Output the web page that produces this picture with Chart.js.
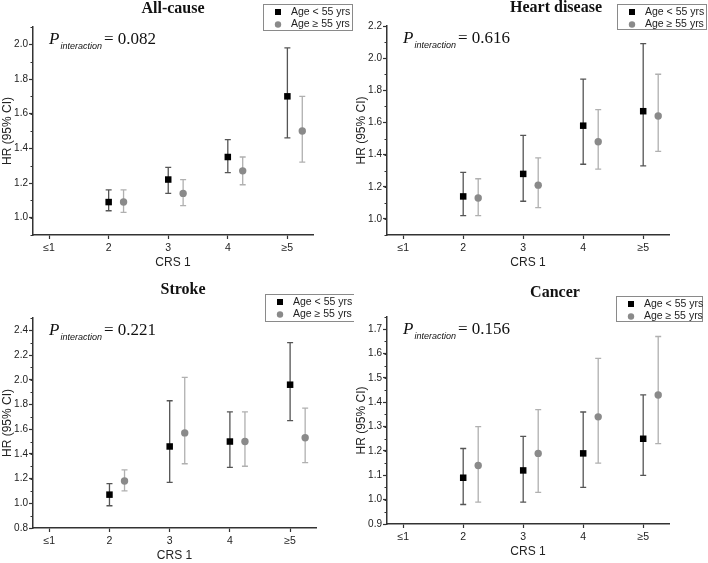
<!DOCTYPE html>
<html>
<head>
<meta charset="utf-8">
<script src="https://cdn.jsdelivr.net/npm/chart.js@4.4.1/dist/chart.umd.min.js"></script>
<style>
  body { margin: 0; background: #fff; }
  #wrap { position: relative; width: 708px; height: 563px; }
  canvas { position: absolute; }
</style>
</head>
<body>
<div id="wrap">
  <canvas id="c1" width="354" height="280" style="left:0;top:0"></canvas>
  <canvas id="c2" width="354" height="280" style="left:354px;top:0"></canvas>
  <canvas id="c3" width="354" height="283" style="left:0;top:280px"></canvas>
  <canvas id="c4" width="354" height="283" style="left:354px;top:280px"></canvas>
</div>
<script>
// --- DATA ---
const crsLabels = ["≤1", "2", "3", "4", "≥5"];
const pointCats = ["2", "3", "4", "≥5"];
const seriesNames = ["Age < 55 yrs", "Age ≥ 55 yrs"];

// All-cause
const allYoungHR = [1.09, 1.22, 1.35, 1.70];
const allYoungLo = [1.04, 1.14, 1.26, 1.46];
const allYoungHi = [1.16, 1.29, 1.45, 1.98];
const allOldHR = [1.09, 1.14, 1.27, 1.50];
const allOldLo = [1.03, 1.07, 1.19, 1.32];
const allOldHi = [1.16, 1.22, 1.35, 1.70];
const allTicks = [1.0, 1.2, 1.4, 1.6, 1.8, 2.0];

// Heart disease
const heartYoungHR = [1.14, 1.28, 1.58, 1.67];
const heartYoungLo = [1.02, 1.11, 1.34, 1.33];
const heartYoungHi = [1.29, 1.52, 1.87, 2.09];
const heartOldHR = [1.13, 1.21, 1.48, 1.64];
const heartOldLo = [1.02, 1.07, 1.31, 1.42];
const heartOldHi = [1.25, 1.38, 1.68, 1.90];
const heartTicks = [1.0, 1.2, 1.4, 1.6, 1.8, 2.0, 2.2];

// Stroke
const strokeYoungHR = [1.07, 1.46, 1.50, 1.96];
const strokeYoungLo = [0.98, 1.17, 1.29, 1.67];
const strokeYoungHi = [1.16, 1.83, 1.74, 2.30];
const strokeOldHR = [1.18, 1.57, 1.50, 1.53];
const strokeOldLo = [1.10, 1.32, 1.30, 1.33];
const strokeOldHi = [1.27, 2.02, 1.74, 1.77];
const strokeTicks = [0.8, 1.0, 1.2, 1.4, 1.6, 1.8, 2.0, 2.2, 2.4];

// Cancer
const cancerYoungHR = [1.09, 1.12, 1.19, 1.25];
const cancerYoungLo = [0.98, 0.99, 1.05, 1.10];
const cancerYoungHi = [1.21, 1.26, 1.36, 1.43];
const cancerOldHR = [1.14, 1.19, 1.34, 1.43];
const cancerOldLo = [0.99, 1.03, 1.15, 1.23];
const cancerOldHi = [1.30, 1.37, 1.58, 1.67];
const cancerTicks = [0.9, 1.0, 1.1, 1.2, 1.3, 1.4, 1.5, 1.6, 1.7];

const sans = '"Liberation Sans", Arial, sans-serif';
const serif = '"Liberation Serif", "Times New Roman", serif';

// error bars drawn from lo/hi arrays through the y scale
const errorBars = {
  id: "errorBars",
  beforeDatasetsDraw(chart) {
    const ctx = chart.ctx;
    const yScale = chart.scales.y;
    chart.data.datasets.forEach((ds, i) => {
      const meta = chart.getDatasetMeta(i);
      ctx.save();
      ctx.strokeStyle = ds.barColor;
      ctx.lineWidth = 1.3;
      meta.data.forEach((el, j) => {
        const x = el.x;
        const yLo = yScale.getPixelForValue(ds.lo[j]);
        const yHi = yScale.getPixelForValue(ds.hi[j]);
        ctx.beginPath();
        ctx.moveTo(x, yLo); ctx.lineTo(x, yHi);
        ctx.moveTo(x - 3, yLo); ctx.lineTo(x + 3, yLo);
        ctx.moveTo(x - 3, yHi); ctx.lineTo(x + 3, yHi);
        ctx.stroke();
      });
      ctx.restore();
    });
  }
};

// title, legend, P-interaction text and minor ticks
const panelDecor = {
  id: "panelDecor",
  afterDraw(chart, args, opts) {
    const ctx = chart.ctx;
    const area = chart.chartArea;
    ctx.save();

    // minor y ticks
    const yScale = chart.scales.y;
    ctx.strokeStyle = "#333";
    ctx.lineWidth = 1;
    for (let v = yScale.min; v <= yScale.max + 1e-9; v += opts.minor) {
      const py = Math.round(yScale.getPixelForValue(v)) + 0.5;
      ctx.beginPath();
      ctx.moveTo(area.left - 2.5, py);
      ctx.lineTo(area.left, py);
      ctx.stroke();
    }

    // title
    ctx.fillStyle = "#111";
    ctx.font = "bold 16px " + serif;
    ctx.textAlign = "center";
    ctx.textBaseline = "alphabetic";
    ctx.fillText(opts.title, opts.titleX, opts.titleY);

    // P interaction
    let px = area.left + 16;
    const py = area.top + 17;
    ctx.textAlign = "left";
    ctx.font = "italic 17px " + serif;
    ctx.fillText("P", px, py);
    px += ctx.measureText("P").width + 1;
    ctx.font = "italic 9px " + sans;
    ctx.fillText("interaction", px, py + 5);
    px += ctx.measureText("interaction").width + 2;
    ctx.font = "17px " + serif;
    ctx.fillText("= " + opts.pValue, px, py);

    // legend
    const [lx, ly, lw, lh] = opts.legendBox;
    ctx.strokeStyle = "#8a8a8a";
    ctx.lineWidth = 1;
    ctx.strokeRect(lx + 0.5, ly + 0.5, lw, lh);
    const ds = chart.data.datasets;
    ctx.font = "10.5px " + sans;
    ctx.textBaseline = "middle";
    ds.forEach((d, i) => {
      const cy = ly + 8 + i * 12.5;
      ctx.fillStyle = d.backgroundColor;
      if (d.pointStyle === "rect") {
        ctx.fillRect(lx + 12, cy - 3, 6, 6);
      } else {
        ctx.beginPath();
        ctx.arc(lx + 15, cy, 3.2, 0, Math.PI * 2);
        ctx.fill();
      }
      ctx.fillStyle = "#222";
      ctx.fillText(d.label, lx + 28, cy);
    });
    ctx.restore();
  }
};

const panels = [
  { id: "c1", title: "All-cause", pValue: "0.082",
    young: [allYoungHR, allYoungLo, allYoungHi], old: [allOldHR, allOldLo, allOldHi],
    ticks: allTicks, yMin: 0.9, yMax: 2.1, minor: 0.1,
    box: { left: 33, top: 27, right: 313, bottom: 235 },
    titleX: 173, titleY: 13, legendBox: [263, 4, 89, 26] },
  { id: "c2", title: "Heart disease", pValue: "0.616",
    young: [heartYoungHR, heartYoungLo, heartYoungHi], old: [heartOldHR, heartOldLo, heartOldHi],
    ticks: heartTicks, yMin: 0.9, yMax: 2.2, minor: 0.1,
    box: { left: 33, top: 26, right: 315, bottom: 235 },
    titleX: 202, titleY: 12, legendBox: [263, 4, 89, 25] },
  { id: "c3", title: "Stroke", pValue: "0.221",
    young: [strokeYoungHR, strokeYoungLo, strokeYoungHi], old: [strokeOldHR, strokeOldLo, strokeOldHi],
    ticks: strokeTicks, yMin: 0.8, yMax: 2.5, minor: 0.1,
    box: { left: 33, top: 38, right: 316, bottom: 248 },
    titleX: 183, titleY: 14, legendBox: [265, 14, 89, 27] },
  { id: "c4", title: "Cancer", pValue: "0.156",
    young: [cancerYoungHR, cancerYoungLo, cancerYoungHi], old: [cancerOldHR, cancerOldLo, cancerOldHi],
    ticks: cancerTicks, yMin: 0.9, yMax: 1.75, minor: 0.05,
    box: { left: 33, top: 37, right: 315, bottom: 244 },
    titleX: 201, titleY: 17, legendBox: [262, 16, 86, 25] }
];

function makeChart(p) {
  const canvas = document.getElementById(p.id);
  const W = canvas.width, H = canvas.height;
  const titleSize = 12;
  const titleBottomPad = Math.max(0, H - p.box.bottom - 28 - titleSize * 0.6);

  return new Chart(canvas, {
    type: "scatter",
    data: {
      datasets: [
        {
          label: seriesNames[0],
          data: pointCats.map((c, j) => ({ x: crsLabels.indexOf(c), y: p.young[0][j] })),
          lo: p.young[1], hi: p.young[2],
          pointStyle: "rect", pointRadius: 4.6, borderWidth: 0,
          backgroundColor: "#000", borderColor: "#000", barColor: "#555"
        },
        {
          label: seriesNames[1],
          data: pointCats.map((c, j) => ({ x: crsLabels.indexOf(c) + 0.25, y: p.old[0][j] })),
          lo: p.old[1], hi: p.old[2],
          pointStyle: "circle", pointRadius: 3.7, borderWidth: 0,
          backgroundColor: "#8a8a8a", borderColor: "#8a8a8a", barColor: "#b0b0b0"
        }
      ]
    },
    options: {
      responsive: false,
      animation: false,
      devicePixelRatio: 1,
      layout: { padding: { top: p.box.top, right: W - p.box.right, left: 0, bottom: 0 } },
      plugins: {
        legend: { display: false },
        tooltip: { enabled: false },
        panelDecor: {
          title: p.title, titleX: p.titleX, titleY: p.titleY,
          pValue: p.pValue, legendBox: p.legendBox, minor: p.minor
        }
      },
      scales: {
        x: {
          type: "linear",
          min: -0.27,
          max: 4.43,
          afterFit: s => { s.height = H - p.box.bottom; },
          afterBuildTicks: s => { s.ticks = crsLabels.map((_, i) => ({ value: i })); },
          ticks: {
            callback: v => crsLabels[Math.round(v)],
            font: { family: sans, size: 10.5 }, color: "#222",
            padding: 3, maxRotation: 0, autoSkip: false
          },
          grid: { drawOnChartArea: false, tickLength: 4, tickColor: "#333", tickWidth: 1.2 },
          border: { color: "#333", width: 1.5 },
          title: {
            display: true, text: "CRS 1", color: "#222",
            font: { family: sans, size: titleSize },
            padding: { top: 0, bottom: titleBottomPad }
          }
        },
        y: {
          min: p.yMin,
          max: p.yMax,
          afterFit: s => { s.width = p.box.left; },
          afterBuildTicks: s => { s.ticks = p.ticks.map(v => ({ value: v })); },
          ticks: {
            callback: v => v.toFixed(1),
            font: { family: sans, size: 10 }, color: "#222", padding: 1
          },
          grid: { drawOnChartArea: false, tickLength: 4, tickColor: "#333", tickWidth: 1.2 },
          border: { color: "#333", width: 1.5 },
          title: {
            display: true, text: "HR (95% CI)", color: "#222",
            font: { family: sans, size: titleSize },
            padding: { top: 0, bottom: 0 }
          }
        }
      }
    },
    plugins: [errorBars, panelDecor]
  });
}

panels.forEach(makeChart);
</script>
</body>
</html>
